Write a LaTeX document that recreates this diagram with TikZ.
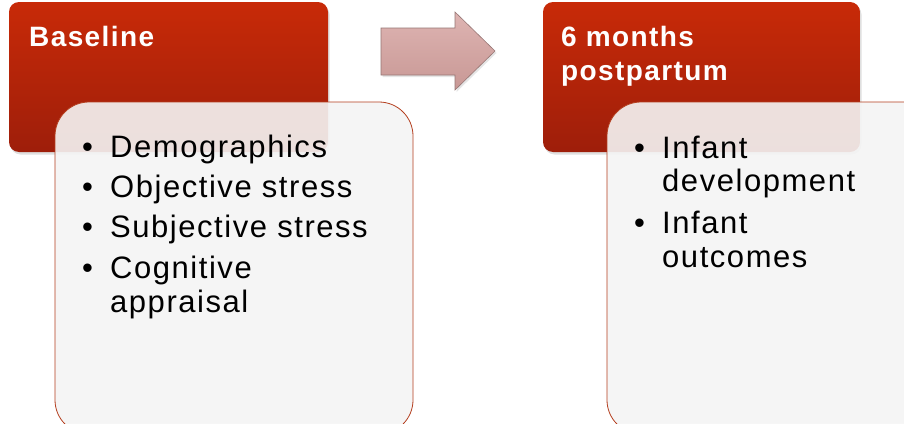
\documentclass[tikz,border=0pt]{standalone}
\usepackage{fontspec}
\setmainfont{Liberation Sans}
\newfontfamily\headfont{Liberation Sans}[LetterSpace=5]
\newfontfamily\itemfont{Liberation Sans}[LetterSpace=5]
\usetikzlibrary{shadows}
\definecolor{redtop}{RGB}{200,42,8}
\definecolor{redbot}{RGB}{158,30,10}
\definecolor{boxfill}{RGB}{245,245,245}
\definecolor{boxedge}{RGB}{180,62,30}
\definecolor{arrtop}{RGB}{222,180,178}
\definecolor{arrbot}{RGB}{200,152,149}
\definecolor{arredge}{RGB}{150,118,116}
\begin{document}
\begin{tikzpicture}[x=1pt,y=-1pt,
  redbox/.style={rounded corners=10pt, top color=redtop, bottom color=redbot, draw=none,
    drop shadow={opacity=0.25, shadow xshift=1.5pt, shadow yshift=-2.5pt}},
  whitebox/.style={rounded corners=34pt, fill=boxfill, fill opacity=0.9, draw=boxedge, line width=0.8pt},
  arrowshape/.style={top color=arrtop, bottom color=arrbot, draw=arredge, line width=0.6pt,
    drop shadow={opacity=0.2, shadow xshift=1.5pt, shadow yshift=-2pt}},
  head/.style={anchor=base west, text=white, font=\headfont\bfseries\fontsize{28}{32}\selectfont, inner sep=0pt},
  item/.style={anchor=base west, text=black, font=\itemfont\fontsize{31}{34}\selectfont, inner sep=0pt},
  bul/.style={anchor=base west, text=black, font=\itemfont\fontsize{31}{34}\selectfont, inner sep=0pt},
]
\useasboundingbox (0,0) rectangle (904,423);
\clip (0,0) rectangle (904,423);
\fill[white] (0,0) rectangle (904,423);

% left group
\path[redbox] (9,2) rectangle (328,152);
\path[whitebox] (55,102) rectangle (413,434);
\node[head] (h1) at (29,46) {Baseline};
\node[bul] (b1) at (82,157) {•};
\node[item] (t1) at (110,157) {Demographics};
\node[bul] (b2) at (82,197) {•};
\node[item] (t2) at (110,197) {Objective stress};
\node[bul] (b3) at (82,237) {•};
\node[item] (t3) at (110,237) {Subjective stress};
\node[bul] (b4) at (82,278) {•};
\node[item] (t4) at (110,278) {Cognitive};
\node[item] (t5) at (110,312) {appraisal};

% arrow
\path[arrowshape] (381,28) -- (455,28) -- (455,12) -- (495,51) -- (455,90) -- (455,75) -- (381,75) -- cycle;

% right group
\path[redbox] (543,2) rectangle (860,152);
\path[whitebox] (607,102) rectangle (945,434);
\node[head] (h2) at (561,46) {6 months};
\node[head] (h3) at (561,80) {postpartum};
\node[bul] (c1) at (634,158) {•};
\node[item] (u1) at (662,158) {Infant};
\node[item] (u2) at (662,191) {development};
\node[bul] (c2) at (634,233) {•};
\node[item] (u3) at (662,233) {Infant};
\node[item] (u4) at (662,267) {outcomes};
\end{tikzpicture}
\end{document}
